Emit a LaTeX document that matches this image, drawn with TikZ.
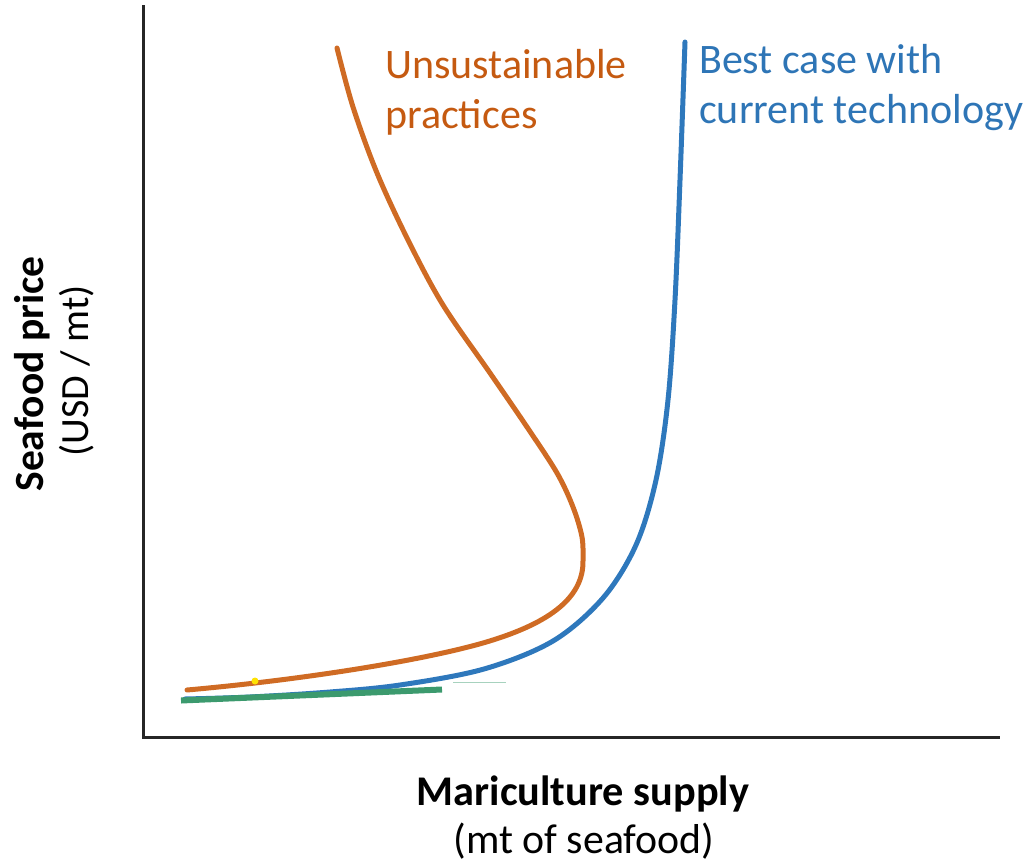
\documentclass[tikz,border=0pt]{standalone}
\usepackage{fontspec}
\setmainfont{Carlito}
\definecolor{orangeline}{HTML}{CF6B24}
\definecolor{orangetext}{HTML}{C55A11}
\definecolor{blueline}{HTML}{2E78BC}
\definecolor{bluetext}{HTML}{2E75B6}
\definecolor{greenline}{HTML}{3C9A6E}
\begin{document}
\begin{tikzpicture}[x=1pt,y=-1pt,
  axis/.style={line width=3pt,draw=black!85},
  curve/.style={line width=5pt,line cap=round,line join=round},
  lbl/.style={inner sep=0pt,align=left,font=\fontsize{42}{50}\selectfont},
]
\useasboundingbox (0,0) rectangle (1028,862);
% axes
\coordinate (ytop) at (143,5);
\coordinate (origin) at (143,737);
\coordinate (xend) at (1000,737);
\draw[axis] (ytop) -- (origin) -- (xend);
% blue curve
\draw[curve,blueline] plot[smooth,tension=0.55] coordinates {
 (685,42) (680,180) (675,300) (668,400) (656,480) (636,545) (603,598) (553,641) (484,669) (400,685) (330,692) (250,697) (185,699)};
% green segment (on top of the blue curve)
\coordinate (g1) at (181,700.5);
\coordinate (g2) at (442,689.5);
\draw[line width=6pt,greenline] (g1) -- (g2);
\coordinate (g3) at (453,682.5);
\coordinate (g4) at (506,682.5);
\draw[line width=1.2pt,greenline!45] (g3) -- (g4);
% orange curve
\draw[curve,orangeline] plot[smooth,tension=0.55] coordinates {
 (337,48) (353,107) (377,173) (408,240) (443,305) (490,373) (527,427) (557,473) (573,507) (582,537) (583,560)}
 .. controls (584,600) and (545,625) .. (483,643)
 .. controls (420,661) and (300,680) .. (187,690);
% yellow dot
\fill[yellow!85!orange] (255,681) circle (3.5);
% labels
\node[lbl,text=orangetext,anchor=base west] (unsus) at (385,128) {Unsustainable\\practices};
\node[lbl,text=bluetext,anchor=base west] (best) at (699,123) {Best case with\\current technology};
\node[inner sep=0pt,anchor=base,font=\fontsize{42.3}{50}\selectfont\bfseries] (xlab) at (583,805) {Mariculture supply};
\node[inner sep=0pt,anchor=base,font=\fontsize{41.8}{50}\selectfont] (xunit) at (584,853) {(mt of seafood)};
\node[inner sep=0pt,anchor=base,rotate=90,font=\fontsize{41.5}{48}\selectfont\bfseries] (ylab) at (43,374) {Seafood price};
\node[inner sep=0pt,anchor=base,rotate=90,font=\fontsize{40}{48}\selectfont] (yunit) at (88,371) {(USD / mt)};
\end{tikzpicture}
\end{document}
